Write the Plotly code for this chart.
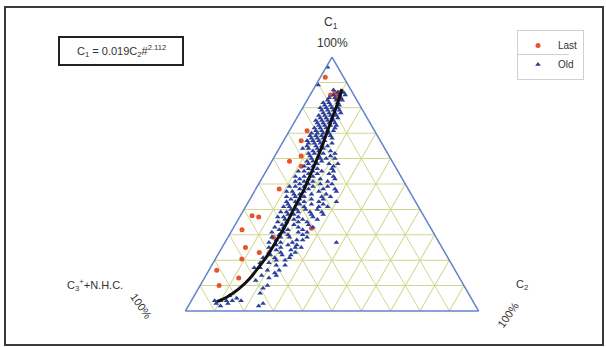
import plotly.graph_objects as go

W, H = 606, 347

# ---- data (percent) ----
LAST_C1 = [92, 85, 86, 85, 86, 84, 84, 67, 71, 59, 61, 57, 48, 37.5, 37, 32, 32.6, 29, 25, 23, 20.5, 16, 13, 10]
LAST_C2 = [1.7, 7, 8, 9, 9.4, 9.3, 10.7, 6, 6, 6, 9, 11, 8, 4, 6.5, 3.3, 26.7, 15.5, 8, 13.7, 9, 2.7, 11.7, 6.5]

OLD_C1 = [96, 89, 86, 85, 85, 84, 84, 83, 83, 82, 82, 81, 81, 80, 80, 80,
          79, 79, 78, 78, 78, 77, 77, 77, 76, 76, 76, 75, 75, 75, 74, 74, 74, 73, 73, 73,
          72, 72, 72, 71, 71, 71, 70, 70, 70,
          69, 69, 69, 68, 68, 68, 67, 67, 67, 66, 66, 66, 65, 65, 65, 64, 64, 64, 63, 63, 63,
          62, 62, 62, 61, 61, 61, 60, 60, 60,
          59, 59, 59, 58, 58, 58, 57, 57, 57, 56, 56, 55, 55, 55, 54, 54, 54, 53, 53,
          52, 52, 52, 51, 51, 50, 50, 50,
          49, 49, 49, 48, 48, 48, 47, 47, 47, 46, 46, 46, 45, 45, 45, 44, 44, 44, 43, 43, 43,
          42, 42, 42, 41, 41, 41, 40, 40, 40,
          39, 39, 39, 38, 38, 38, 37, 37, 36, 36, 36, 35, 35, 34, 34, 33, 33, 32, 32, 31, 31, 30, 30,
          29, 29, 28, 28, 27, 27, 26, 26, 25, 25, 24, 23, 22, 22, 21, 20,
          19, 18, 17, 16, 15, 14, 13, 12, 9, 4, 4, 3, 4, 3, 4, 3,
          # extra: upper blob
          87, 86, 85, 84, 83, 82, 81, 80, 79, 79, 78, 77, 76, 75, 74, 73, 72, 71, 70, 69, 68, 67, 66, 65, 64,
          # extra: right side of band
          62, 60, 58, 56, 55, 53, 52, 51, 50, 49, 48, 47, 46, 45, 44, 43, 42, 41, 40, 39, 38, 37, 36, 35,
          34, 33, 32, 31, 30, 29, 28, 27, 26, 25, 24, 23, 22, 21, 20, 18, 16, 14, 10, 7, 2,
          # extra: left side of band
          55, 53, 51, 49, 47, 45, 43, 41, 39, 37, 35, 33, 31, 29, 27, 25, 23, 21, 19, 17, 6, 5, 4, 2]
OLD_C2 = [0.5, 0.8, 9, 8, 10, 9, 11, 7, 10, 8, 11, 9, 12, 8, 10, 12,
          9, 11, 8, 10, 12, 9, 11, 13, 8, 10, 12, 9, 11, 13, 10, 12, 14, 9, 11, 13,
          10, 12, 15, 9, 11, 13, 10, 12, 14,
          10, 12, 15, 11, 13, 16, 10, 12, 14, 11, 13, 17, 12, 14, 16, 10, 13, 15, 12, 14, 18,
          11, 13, 16, 12, 15, 19, 13, 16, 18,
          12, 14, 17, 13, 16, 20, 12, 15, 22, 14, 17, 13, 16, 19, 15, 18, 22, 14, 17,
          13, 16, 20, 15, 18, 14, 17, 21,
          13, 16, 19, 15, 18, 23, 13, 17, 28, 14, 16, 20, 15, 18, 24, 14, 17, 21, 16, 19, 30,
          14, 18, 22, 15, 20, 25, 16, 18, 21,
          15, 19, 23, 16, 18, 28, 15, 20, 16, 19, 22, 17, 24, 16, 20, 17, 22, 16, 19, 18, 23, 17, 20,
          18, 21, 17, 24, 19, 38, 18, 22, 20, 25, 19, 21, 18, 25, 20, 24,
          19, 22, 17, 20, 23, 19, 22, 18, 22, 8, 10, 9, 12, 13, 14, 25,
          7, 11, 12, 7, 12, 6, 7, 6, 7, 13, 14, 7, 14, 7, 8, 15, 8, 15, 8, 8, 9, 8, 9, 9, 8,
          20, 21, 23, 22, 23, 24, 25, 23, 25, 24, 27, 22, 25, 27, 25, 24, 26, 28, 25, 27, 24, 25, 27, 21,
          25, 27, 24, 26, 25, 27, 26, 23, 25, 27, 24, 26, 22, 25, 21, 25, 24, 24, 23, 22, 24,
          11, 11, 12, 11, 11, 12, 13, 13, 13, 13, 14, 14, 14, 15, 15, 16, 17, 16, 16, 15, 12, 15, 17, 11]

FIT_C1 = [3.7, 5.4, 8.6, 12.6, 17.4, 22.2, 27.5, 33.5, 40.3, 47.2, 55.2, 64.1, 73.7, 81.8, 87.4]
FIT_C2 = [8.9, 11.4, 13.8, 15.5, 16.4, 17.1, 17.2, 17.3, 16.9, 16.6, 15.6, 14.3, 12.5, 11.0, 9.7]


def rest(c1, c2):
    return [round(100 - a - b, 2) for a, b in zip(c1, c2)]


fig = go.Figure()

fig.add_trace(go.Scatterternary(
    a=LAST_C1, b=rest(LAST_C1, LAST_C2), c=LAST_C2, mode='markers', name='Last',
    marker=dict(symbol='circle', size=5, color='#e8532c'),
))
fig.add_trace(go.Scatterternary(
    a=OLD_C1, b=rest(OLD_C1, OLD_C2), c=OLD_C2, mode='markers', name='Old',
    marker=dict(symbol='triangle-up', size=5, color='#2d3f9c'),
))
fig.add_trace(go.Scatterternary(
    a=FIT_C1, b=rest(FIT_C1, FIT_C2), c=FIT_C2, mode='lines', showlegend=False,
    line=dict(color='#111111', width=3, shape='spline'),
))

axis_style = dict(showticklabels=False, ticks='', showgrid=True, gridcolor='#cfd78f',
                  gridwidth=1, linecolor='#6382cc', linewidth=1.5, dtick=10, tick0=0,
                  title=dict(text=''))

def px(x):
    return x / W

def py(y):
    return 1 - y / H

fig.update_layout(
    width=W, height=H,
    margin=dict(l=0, r=0, t=0, b=0),
    paper_bgcolor='white',
    ternary=dict(
        sum=100,
        domain=dict(x=[px(332 - 152), px(332 + 152)], y=[py(311), py(57)]),
        bgcolor='white',
        aaxis=axis_style, baxis=axis_style, caxis=axis_style,
    ),
    showlegend=True,
    legend=dict(x=px(517), y=py(30), xanchor='left', yanchor='top',
                bordercolor='#d0d0d0', borderwidth=1, bgcolor='rgba(0,0,0,0)',
                font=dict(family='Liberation Sans Narrow, Liberation Sans', size=10, color='#333'),
                itemsizing='trace', itemwidth=30, tracegroupgap=2),
    font=dict(family='Liberation Sans, Arial', color='#333'),
)

shapes = [
    dict(type='rect', xref='paper', yref='paper', x0=px(5), x1=px(603), y0=py(345), y1=py(7),
         line=dict(color='#3a3a3a', width=2)),
    dict(type='rect', xref='paper', yref='paper', x0=px(59), x1=px(183), y0=py(65), y1=py(37),
         line=dict(color='#222', width=2)),
    dict(type='line', xref='paper', yref='paper', x0=px(517), x1=px(569), y0=py(54.5), y1=py(54.5),
         line=dict(color='#d0d0d0', width=1)),
]
fig.update_layout(shapes=shapes)

ann = [
    dict(x=px(331), y=py(23), text='C<sub>1</sub>', size=12, angle=0),
    dict(x=px(332), y=py(43), text='100%', size=12, angle=0),
    dict(x=px(95), y=py(285), text='C<sub>3</sub><sup>+</sup>+N.H.C.', size=11, angle=0),
    dict(x=px(141), y=py(306), text='100%', size=11, angle=55),
    dict(x=px(522), y=py(285), text='C<sub>2</sub>', size=11, angle=0),
    dict(x=px(508), y=py(315), text='100%', size=11, angle=-55),
    dict(x=px(121), y=py(51), text='C<sub>1</sub> = 0.019C<sub>2</sub>#<sup>2.112</sup>', size=11, angle=0),
]
fig.update_layout(annotations=[
    dict(x=a['x'], y=a['y'], xref='paper', yref='paper', text=a['text'], showarrow=False,
         textangle=a['angle'], font=dict(size=a['size'], color='#333'),
         xanchor='center', yanchor='middle')
    for a in ann
])

fig.write_html('out.html')
